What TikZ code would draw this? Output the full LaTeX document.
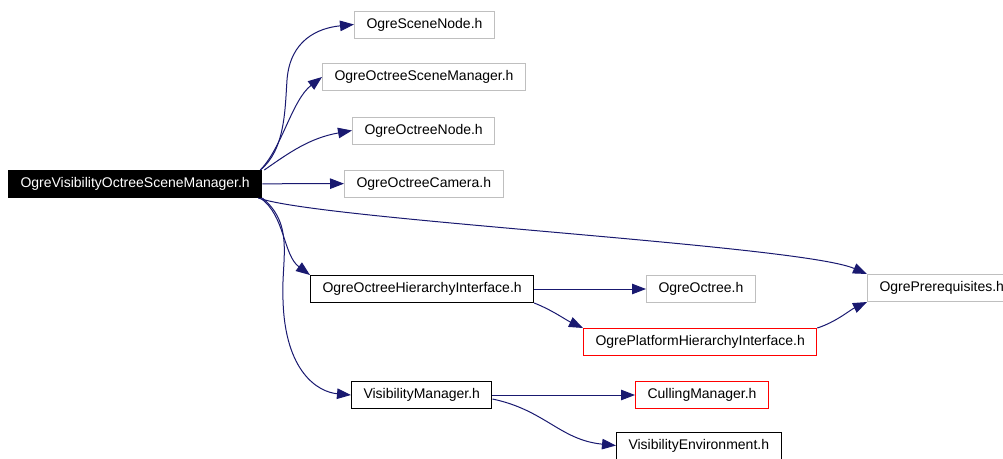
\documentclass[tikz,border=0pt]{standalone}
\usepackage{fontspec}
\setmainfont{Liberation Sans}
\usepackage{tikz}
\usetikzlibrary{arrows.meta, positioning}
\usepackage{xcolor}
\definecolor{edgeBlue}{HTML}{191970}
\definecolor{boxGray}{HTML}{BFBFBF}
\definecolor{boxRed}{HTML}{FF0000}
\tikzset{
    header/.style={rectangle, draw=black, fill=white, line width=1pt, anchor=west, inner xsep=12pt, inner ysep=0pt, minimum height=27pt, font=\fontsize{14}{16}\selectfont},
    current/.style={header, fill=black, text=white},
    external/.style={header, draw=boxGray},
    missing/.style={header, draw=boxRed},
    dep/.style={-{Triangle[length=14pt, width=10.5pt]}, line width=1pt, draw=edgeBlue},
}

\begin{document}
\begin{tikzpicture}[x=1pt, y=-1pt]
    \useasboundingbox (0,0) rectangle (1003,458);
    % include graph nodes
    \node[current]  (visscene)  at (8,184)     {OgreVisibilityOctreeSceneManager.h};
    \node[external] (scenenode) at (354,24.5)  {OgreSceneNode.h};
    \node[external] (octscene)  at (322,77)    {OgreOctreeSceneManager.h};
    \node[external] (octnode)   at (352,130.5) {OgreOctreeNode.h};
    \node[external] (octcam)    at (344,183.5) {OgreOctreeCamera.h};
    \node[external] (prereq)    at (867,288)   {OgrePrerequisites.h};
    \node[header]   (hier)      at (310,289)   {OgreOctreeHierarchyInterface.h};
    \node[external] (octree)    at (646,289)   {OgreOctree.h};
    \node[missing]  (platform)  at (583,342)   {OgrePlatformHierarchyInterface.h};
    \node[header]   (vismgr)    at (351,395)   {VisibilityManager.h};
    \node[missing]  (culling)   at (635,395)   {CullingManager.h};
    \node[header]   (visenv)    at (616,445.5) {VisibilityEnvironment.h};

    % edges from the main header
    \draw[dep] (visscene.north east) ++(-2,0) .. controls (285,150) and (285,110) .. (287,80)
        .. controls (290,40) and (318,28) .. (scenenode.west);
    \draw[dep] (visscene.north east) ++(-2,0) .. controls (282,148) and (292,100) .. (octscene.west);
    \draw[dep] (visscene.north east) ++(2,0) .. controls (290,152) and (310,138) .. (octnode.west);
    \draw[dep] (visscene) -- (octcam);
    \draw[dep] (visscene.south east) ++(-4,0) .. controls (320,220) and (800,245) .. (prereq.north west);
    \draw[dep] (visscene.south east) ++(-2,0) .. controls (285,215) and (283,255) .. (hier.north west);
    \draw[dep] (visscene.south east) ++(0,0) .. controls (295,225) and (281,260) .. (283,300)
        .. controls (285,372) and (318,392) .. (vismgr.west);

    % remaining edges
    \draw[dep] (hier) -- (octree);
    \draw[dep] (hier.south east) .. controls (552,310) and (566,320) .. (platform.north west);
    \draw[dep] (platform.north east) .. controls (836,322) and (850,310) .. (prereq.south west);
    \draw[dep] (vismgr) -- (culling);
    \draw[dep] (vismgr.east) ++(0,4) .. controls (545,410) and (560,440) .. (visenv.west);
\end{tikzpicture}
\end{document}
